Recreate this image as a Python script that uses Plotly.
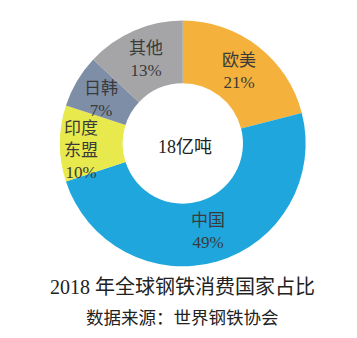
import math
import plotly.graph_objects as go

regions = ["欧美", "中国", "印度东盟", "日韩", "其他"]
display_names = ["欧美", "中国", "印度<br>东盟", "日韩", "其他"]
shares = [21, 49, 10, 7, 13]
colors = ["#F4B13B", "#1EA6DD", "#E8E94C", "#7E8EA7", "#A5A5A7"]
center_text = "18亿吨"
title_text = "2018 年全球钢铁消费国家占比"
source_text = "数据来源：世界钢铁协会"

FONT = "Liberation Serif, Noto Sans CJK SC, serif"
W, H = 357, 338
DOM_X = [0.167, 0.857]
DOM_Y = [0.212, 0.939]
HOLE = 0.49
# small pixel nudges for label blocks (dx right, dy up)
NUDGE = {"印度东盟": (-10, -7), "日韩": (-3, -3)}

fig = go.Figure(go.Pie(
    labels=regions,
    values=shares,
    textinfo="none",
    marker=dict(colors=colors, line=dict(width=0)),
    hole=HOLE,
    sort=False,
    direction="clockwise",
    rotation=0,
    showlegend=False,
    domain=dict(x=DOM_X, y=DOM_Y),
    hoverinfo="label+percent",
))

# slice labels placed at the middle of the ring, at each slice's mid angle
cx = (DOM_X[0] + DOM_X[1]) / 2 * W
cy = (DOM_Y[0] + DOM_Y[1]) / 2 * H
r_out = min((DOM_X[1] - DOM_X[0]) * W, (DOM_Y[1] - DOM_Y[0]) * H) / 2
r_mid = r_out * (1 + HOLE) / 2
total = sum(shares)
cum = 0
for reg, name, v in zip(regions, display_names, shares):
    mid = (cum + v / 2) / total * 2 * math.pi
    cum += v
    dx, dy = NUDGE.get(reg, (0, 0))
    px = cx + r_mid * math.sin(mid) + dx
    py = cy + r_mid * math.cos(mid) + dy
    fig.add_annotation(text=f"{name}<br>{round(v / total * 100)}%",
                       x=px / W, y=py / H, xref="paper", yref="paper",
                       xanchor="center", yanchor="middle",
                       showarrow=False, align="center",
                       font=dict(family=FONT, size=17, color="#3a3a3a"))

fig.add_annotation(text=center_text, x=cx / W + 0.006, y=1 - 147 / H, xref="paper", yref="paper",
                   xanchor="center", yanchor="middle",
                   showarrow=False, font=dict(family=FONT, size=18, color="#222"))
fig.add_annotation(text=title_text, x=0.51, y=1 - 287 / H, xref="paper", yref="paper",
                   xanchor="center", yanchor="middle",
                   showarrow=False, font=dict(family=FONT, size=20, color="#222"))
fig.add_annotation(text=source_text, x=0.51, y=1 - 318 / H, xref="paper", yref="paper",
                   xanchor="center", yanchor="middle",
                   showarrow=False, font=dict(family=FONT, size=17.5, color="#222"))

fig.update_layout(width=W, height=H, margin=dict(l=0, r=0, t=0, b=0),
                  paper_bgcolor="white", plot_bgcolor="white")

fig.write_html("out.html")
